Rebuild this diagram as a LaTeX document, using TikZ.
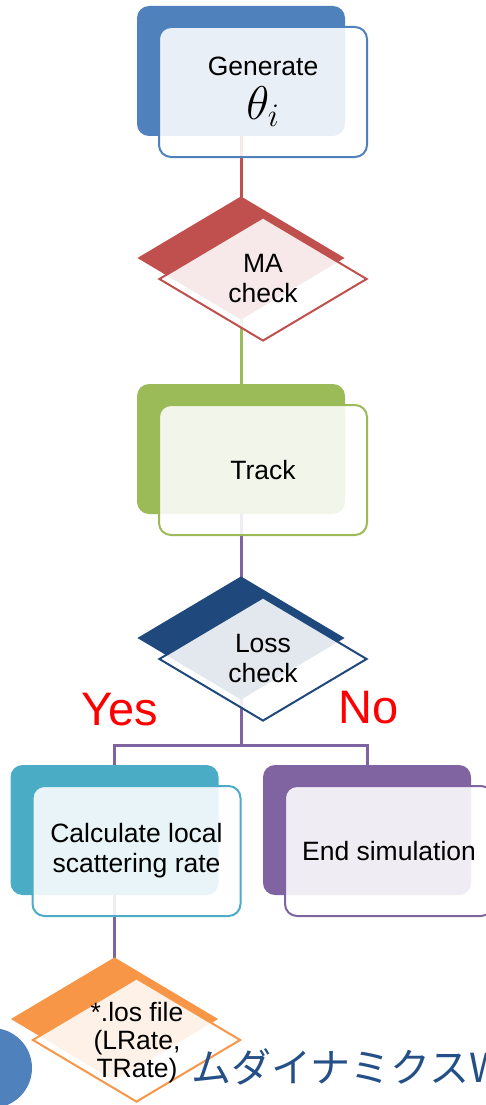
\documentclass[tikz,border=0pt]{standalone}
\usepackage{fontspec}
\setmainfont{Liberation Sans}
\newfontfamily\jpfont{Noto Sans CJK JP}
\usetikzlibrary{shapes.geometric,shadows,backgrounds}

\definecolor{blueA}{HTML}{4F81BD}
\definecolor{redA}{HTML}{C0504D}
\definecolor{greenA}{HTML}{9BBB59}
\definecolor{navyA}{HTML}{1F497D}
\definecolor{tealA}{HTML}{4BACC6}
\definecolor{purpleA}{HTML}{8064A2}
\definecolor{orangeA}{HTML}{F79646}
\definecolor{titleA}{RGB}{36,80,135}

\tikzset{
    stage/.style={rectangle, rounded corners=12pt, draw=#1, line width=2pt,
        fill=white, fill opacity=0.88, text opacity=1, align=center,
        minimum width=208pt, minimum height=130pt,
        font=\fontsize{26.5}{30}\selectfont,
        general shadow={fill=#1, fill opacity=1, shadow xshift=-22pt, shadow yshift=21pt}},
    decision/.style={diamond, aspect=1.68, draw=#1, line width=2pt,
        fill=white, fill opacity=0.88, text opacity=1, align=center, inner sep=0pt,
        minimum width=208pt, minimum height=124pt,
        font=\fontsize{26.5}{30}\selectfont,
        general shadow={fill=#1, fill opacity=1, shadow xshift=-22pt, shadow yshift=21pt}},
    link/.style={line width=3pt},
    answer/.style={text=red, anchor=base, font=\fontsize{47}{47}\selectfont}
}

\begin{document}
\begin{tikzpicture}[x=1pt, y=-1pt]
    \useasboundingbox (0,0) rectangle (486,1105);

    \fill[blueA] (-8,1068) circle (40pt);

    \node[stage=blueA] (gen) at (263,92)
        {Generate\\[10pt]\scalebox{1.9}{$\theta_i$}};
    \node[decision=redA] (ma) at (263,279) {MA\\check};
    \node[stage=greenA] (track) at (263,470) {Track};
    \node[decision=navyA] (loss) at (263,659) {Loss\\check};
    \node[stage=tealA] (calc) at (136.5,851) {Calculate local\\scattering rate};
    \node[stage=purpleA] (endsim) at (389,851) {End simulation};
    \node[decision=orangeA] (los) at (136.5,1040) {};
    \node[align=center, font=\fontsize{26.5}{28}\selectfont] (lostext) at (137,1043)
        {*.los file\\(LRate,\\TRate)};

    \node[answer] (yes) at (120,725) {Yes};
    \node[answer] (no) at (369,723) {No};

    \node[anchor=base west, text=titleA, inner sep=0pt,
        font=\jpfont\fontsize{40}{40}\selectfont] (title) at (191,1082) {ムダイナミクスW};

    \coordinate (split) at (241,745);

    \begin{scope}[on background layer={link}]
        \draw[redA] ([xshift=-22pt]gen.center) -- ([xshift=-22pt]ma.center);
        \draw[greenA] ([xshift=-22pt]ma.center) -- ([xshift=-22pt]track.center);
        \draw[purpleA] ([xshift=-22pt]track.center) -- ([xshift=-22pt]loss.center);
        \draw[purpleA] ([xshift=-22pt]loss.center) -- (split);
        \draw[purpleA] (split) -| ([xshift=-22pt]calc.center);
        \draw[purpleA] (split) -| ([xshift=-22pt]endsim.center);
        \draw[purpleA] ([xshift=-22pt]calc.center) -- ([xshift=-22pt]los.center);
    \end{scope}
\end{tikzpicture}
\end{document}
